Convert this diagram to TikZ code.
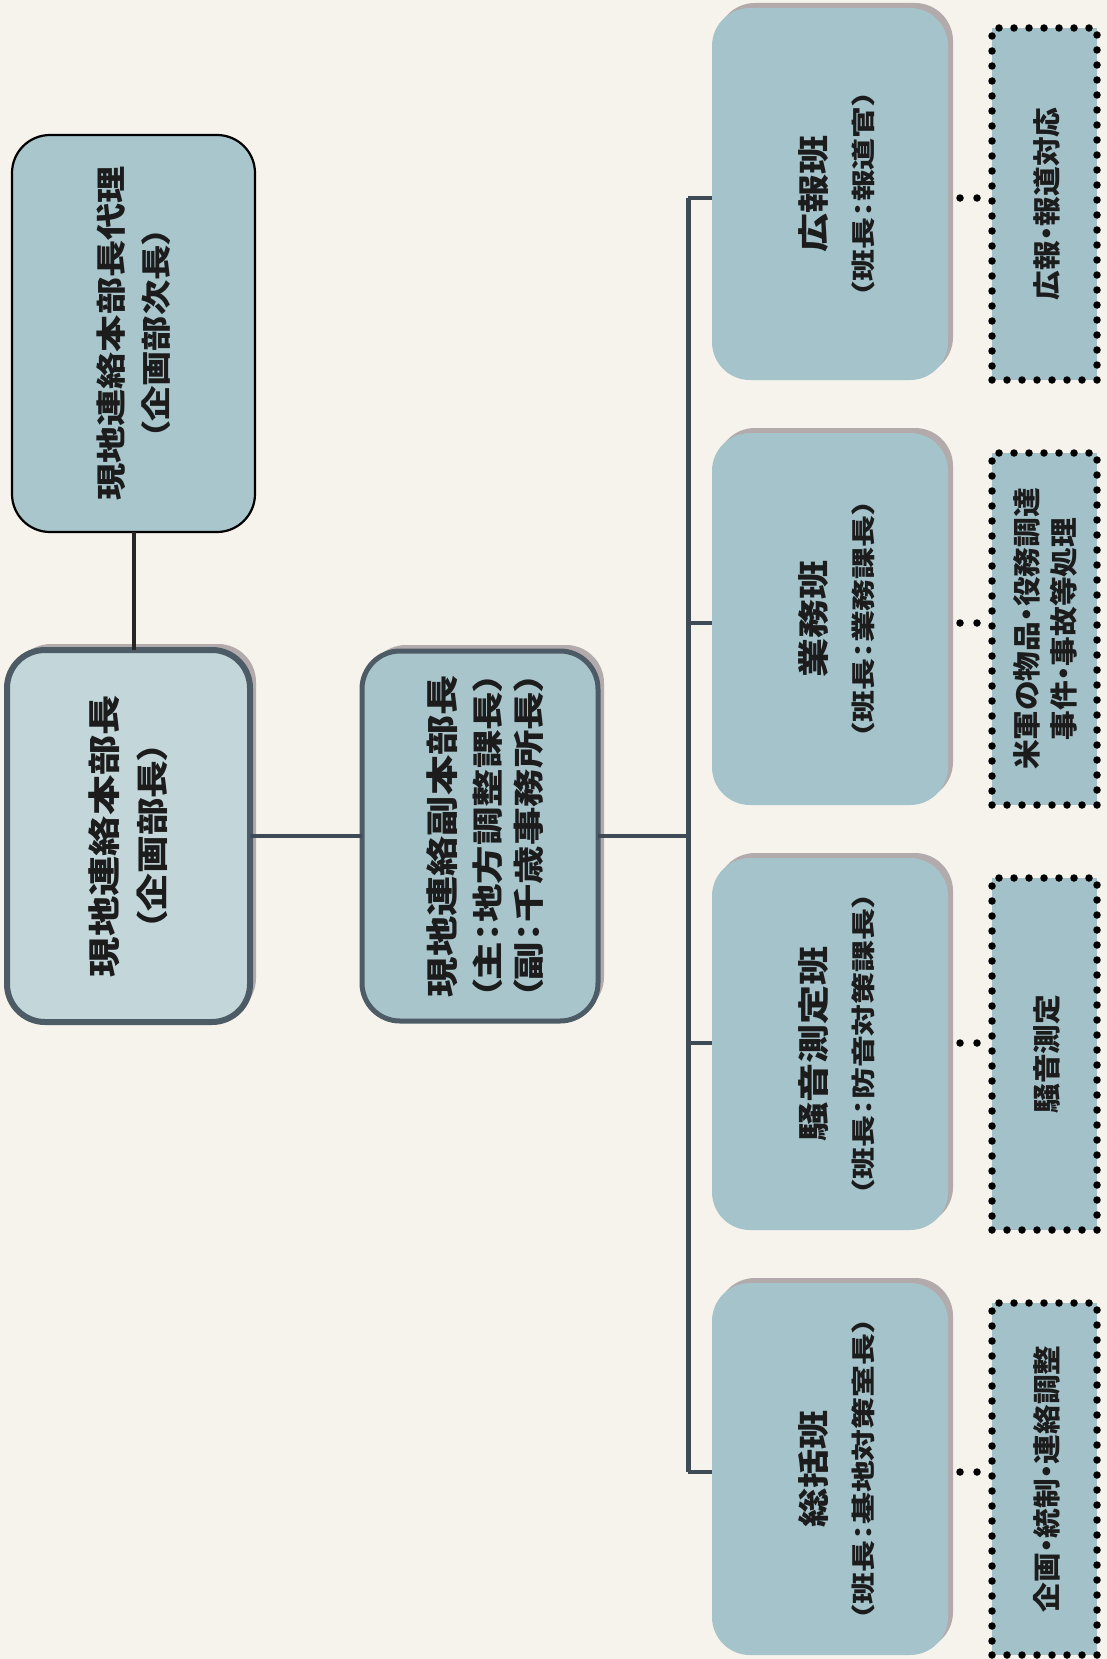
\documentclass[tikz,border=0pt]{standalone}
\usepackage{fontspec}
\newfontfamily\jpA[FakeStretch=1.24, Kerning=Off, RawFeature={+palt}]{Noto Sans CJK JP}
\newfontfamily\jpB[FakeStretch=1.18, Kerning=Off, RawFeature={+palt}]{Noto Sans CJK JP}
\newfontfamily\jpD[FakeStretch=1.33, Kerning=Off, RawFeature={+palt}]{Noto Sans CJK JP}
\newfontfamily\jpE[FakeStretch=1.06, Kerning=Off, RawFeature={+palt}]{Noto Sans CJK JP}
\usetikzlibrary{shadows}
\definecolor{bg}{HTML}{F5F3EC}
\definecolor{boxfill}{HTML}{A5C3CB}
\definecolor{topfill}{HTML}{A8C6CC}
\definecolor{lightfill}{HTML}{C3D7DA}
\definecolor{midfill}{HTML}{A9C5CC}
\definecolor{dotfill}{HTML}{A3C1C9}
\definecolor{edge}{HTML}{4D5B66}
\definecolor{shade}{HTML}{B3AAAB}
\definecolor{linec}{HTML}{3E4A55}
\definecolor{ink}{HTML}{1C1C1C}
\tikzset{
  orgbox/.style={rectangle, rounded corners=38pt, inner sep=0pt, outer sep=0pt},
  topbox/.style={orgbox, fill=topfill, draw=black, line width=2.2pt},
  mainbox/.style={orgbox, fill=lightfill, draw=edge, line width=6pt,
    drop shadow={shadow xshift=6pt, shadow yshift=6pt, fill=shade, opacity=1}},
  deputybox/.style={orgbox, fill=midfill, draw=edge, line width=5pt,
    drop shadow={shadow xshift=6pt, shadow yshift=6pt, fill=shade, opacity=1}},
  teambox/.style={orgbox, fill=boxfill, draw=none, minimum width=236pt, minimum height=372pt,
    drop shadow={shadow xshift=5pt, shadow yshift=5pt, fill=shade, opacity=1}},
  taskbox/.style={rectangle, inner sep=0pt, fill=dotfill, draw=black, line width=7.5pt,
    line cap=round, dash pattern=on 0pt off 15pt, minimum width=105pt, minimum height=352pt},
  txt/.style={rotate=90, align=center, inner sep=0pt, text=ink},
  conn/.style={draw=linec, line width=4.5pt},
  blackline/.style={draw=black!85, line width=4pt},
  dotlink/.style={draw=black, line width=7.5pt, line cap=round, dash pattern=on 0pt off 17pt, dash phase=5pt}
}
\begin{document}
\begin{tikzpicture}[x=1pt, y=-1pt]
\useasboundingbox (0,0) rectangle (1107,1659);
\fill[bg] (0,0) rectangle (1107,1659);

% boxes
\node[topbox, minimum width=243pt, minimum height=397pt] (b1) at (133.5,333.5) {};
\node[mainbox, minimum width=243pt, minimum height=372pt] (b2) at (128.5,836) {};
\node[deputybox, minimum width=236pt, minimum height=370pt] (b3) at (480,836) {};

\node[teambox] (g1) at (830,194) {};
\node[teambox] (g2) at (830,619) {};
\node[teambox] (g3) at (830,1044) {};
\node[teambox] (g4) at (830,1469) {};

\node[taskbox] (d1) at (1044.5,204) {};
\node[taskbox] (d2) at (1044.5,629) {};
\node[taskbox] (d3) at (1044.5,1054) {};
\node[taskbox] (d4) at (1044.5,1479) {};

% texts
\node[txt, font=\jpA\bfseries\fontsize{30}{45}\selectfont] (b1t) at (b1)
  {現地連絡本部長代理\\{\jpB\fontsize{30}{30}\selectfont （企画部次長）}};
\node[txt, font=\jpA\bfseries\fontsize{32.5}{48}\selectfont] (b2t) at (b2)
  {現地連絡本部長\\{\jpB\fontsize{32}{32}\selectfont （企画部長）}};
\node[txt, font=\jpA\bfseries\fontsize{32.5}{41}\selectfont] (b3t) at ([xshift=5pt]b3.center)
  {現地連絡副本部長\\[4pt]{\fontsize{31}{31}\selectfont （主：地方調整課長）}\\{\fontsize{31}{31}\selectfont （副：千歳事務所長）}};

\node[txt, font=\jpA\bfseries\fontsize{31.5}{47}\selectfont] (g1t) at ([xshift=6.5pt]g1.center)
  {広報班\\{\jpD\fontsize{24}{24}\selectfont （班長：報道官）}};
\node[txt, font=\jpA\bfseries\fontsize{31.5}{47}\selectfont] (g2t) at ([xshift=6.5pt]g2.center)
  {業務班\\{\jpD\fontsize{24}{24}\selectfont （班長：業務課長）}};
\node[txt, font=\jpA\bfseries\fontsize{31.5}{47}\selectfont] (g3t) at ([xshift=6.5pt]g3.center)
  {騒音測定班\\{\jpD\fontsize{24}{24}\selectfont （班長：防音対策課長）}};
\node[txt, font=\jpA\bfseries\fontsize{31.5}{47}\selectfont] (g4t) at ([xshift=6.5pt]g4.center)
  {総括班\\{\jpD\fontsize{24}{24}\selectfont （班長：基地対策室長）}};

\node[txt, font=\jpE\bfseries\fontsize{28}{37}\selectfont] (d1t) at ([xshift=2pt]d1.center) {広報・報道対応};
\node[txt, font=\jpE\bfseries\fontsize{28}{37}\selectfont] (d2t) at ([xshift=1pt]d2.center) {米軍の物品・役務調達\\事件・事故等処理};
\node[txt, font=\jpE\bfseries\fontsize{28}{37}\selectfont] (d3t) at ([xshift=2pt]d3.center) {騒音測定};
\node[txt, font=\jpE\bfseries\fontsize{28}{37}\selectfont] (d4t) at ([xshift=2pt]d4.center) {企画・統制・連絡調整};

% connectors
\draw[blackline] (b1.south) -- (b1.south |- b2.north);
\draw[conn] (b2) -- (b3);
\coordinate (j0) at (688,836);
\coordinate (t1) at (688,198);
\coordinate (t2) at (688,623);
\coordinate (t3) at (688,1043);
\coordinate (t4) at (688,1472);
\draw[conn] (b3) -- (j0);
\draw[conn, line width=5pt] (t1) -- (t4);
\draw[conn] (t1) -- (t1 -| g1.west);
\draw[conn] (t2) -- (t2 -| g2.west);
\draw[conn] (t3) -- (t3 -| g3.west);
\draw[conn] (t4) -- (t4 -| g4.west);

\draw[dotlink] (t1 -| g1.east) -- (t1 -| d1.west);
\draw[dotlink] (t2 -| g2.east) -- (t2 -| d2.west);
\draw[dotlink] (t3 -| g3.east) -- (t3 -| d3.west);
\draw[dotlink] (t4 -| g4.east) -- (t4 -| d4.west);
\end{tikzpicture}
\end{document}
